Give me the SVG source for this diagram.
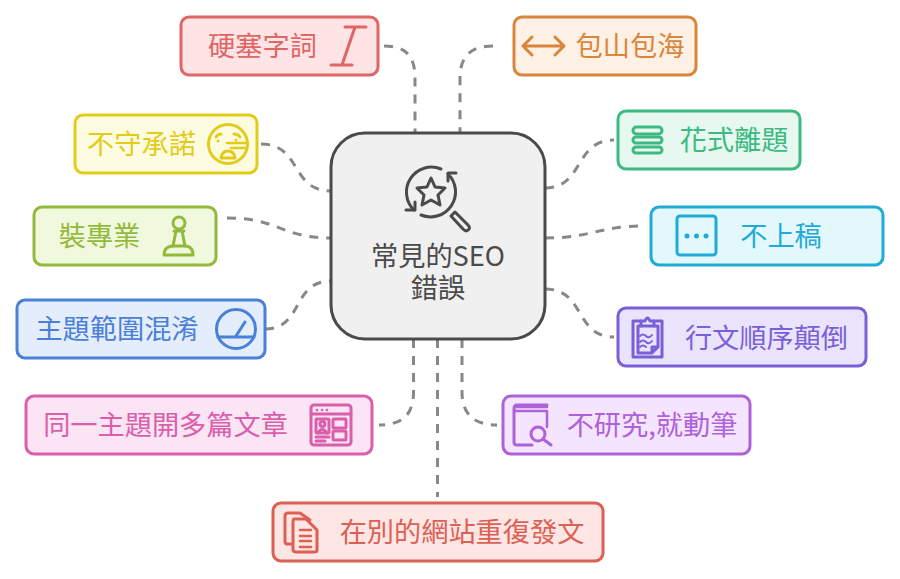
<svg xmlns="http://www.w3.org/2000/svg" width="900" height="579" viewBox="0 0 900 579">
<style>
text{font-family:"Noto Sans CJK TC","Noto Sans CJK SC",sans-serif;font-size:27.2px;font-weight:400;text-anchor:middle}
.box{stroke-width:3}
.ic{fill:none;stroke-width:3;stroke-linecap:round;stroke-linejoin:round}
.dot{stroke:none}
#connectors path{fill:none;stroke:#888;stroke-width:3;stroke-dasharray:9 8}
</style>
<rect width="900" height="579" fill="#fff"/>
<g id="connectors">
<path d="M384 46C405 46 415 55 415 78L415 133"/>
<path d="M493 46C472 46 460 55 460 78L460 133"/>
<path d="M545 188C584 188 574 140 614 140"/>
<path d="M545 238C592 238 598 226 645 226"/>
<path d="M545 289C586 289 574 337 614 337"/>
<path d="M462 339L462 392C462 415 475 425 497 425"/>
<path d="M437.500 339L437.500 497"/>
<path d="M413.500 339L413.500 392C413.500 415 402 425 379 425"/>
<path d="M265 329C304 329 291 281 331 281"/>
<path d="M227 218C280 218 280 238 331 238"/>
<path d="M261 144C302 144 290 191 331 191"/>
</g>
<g id="center">
<rect x="331" y="133" width="214" height="206" rx="34" fill="#f0f0f0" stroke="#4a4a4a" stroke-width="3"/>
<g class="ic" stroke="#4a4a4a">
<path d="M414 210A25 25 0 0 1 441 169"/>
<path d="M448 174A25 25 0 0 1 421 215"/>
<path d="M456 173L448 173L448 181"/>
<path d="M406 210L415 210L415 202"/>
<path d="M431 178L435 187L445 188L438 195L440 205L431 200L422 205L424 195L417 188L427 187Z"/>
<path d="M451 216L455 212L468 225Q471 228 468 230Q466 232 463 229Z"/>
</g>
<text fill="#4a4a4a"><tspan x="438" y="266">常見的SEO</tspan><tspan x="438" y="298">錯誤</tspan></text>
</g>
<g id="n-keyword-stuffing">
<rect class="box" x="181" y="17" width="197" height="58" rx="8" fill="#fee4e4" stroke="#e06666"/>
<text x="262.500" y="55.500" fill="#e06666">硬塞字詞</text>
<path class="ic" stroke="#e06666" d="M345 27L366 27M331 65L352 65M355 27L342 65"/>
</g>
<g id="n-everything">
<rect class="box" x="514" y="17" width="182" height="58" rx="8" fill="#fdf0e4" stroke="#d9853b"/>
<text x="630" y="55.500" fill="#d9853b">包山包海</text>
<path class="ic" stroke="#d9853b" d="M524 46L563 46M532 37L523 46L532 55M555 37L564 46L555 55"/>
</g>
<g id="n-off-topic">
<rect class="box" x="618" y="111" width="182" height="58" rx="8" fill="#e6f8ef" stroke="#3dba82"/>
<text x="734" y="149.500" fill="#3dba82">花式離題</text>
<g class="ic" stroke="#3dba82">
<rect x="633" y="127" width="29" height="7" rx="3.500"/>
<rect x="633" y="137" width="29" height="6" rx="3"/>
<rect x="633" y="147" width="29" height="6" rx="3"/>
</g>
</g>
<g id="n-promises">
<rect class="box" x="75" y="115" width="182" height="58" rx="8" fill="#fdfce0" stroke="#e3cc19"/>
<text x="141.500" y="153.500" fill="#e3cc19">不守承諾</text>
<g class="ic" stroke="#e3cc19">
<circle cx="228" cy="144" r="19.500"/>
<path d="M216 137Q218 134 221 134M234 134Q238 134 240 137"/>
<path d="M227 143L247 143M231 148L247 148" stroke-width="2.500"/>
<path d="M221 158Q222 151 228 151Q234 151 235 158Z"/>
</g>
<circle class="dot" cx="218" cy="141" r="1.500" fill="#e3cc19"/>
<circle class="dot" cx="236" cy="140" r="1.500" fill="#e3cc19"/>
</g>
<g id="n-expert">
<rect class="box" x="34" y="207" width="182" height="58" rx="8" fill="#f0f9de" stroke="#93b93a"/>
<text x="99.500" y="245.500" fill="#93b93a">裝專業</text>
<g class="ic" stroke="#93b93a">
<circle cx="179" cy="223" r="6"/>
<path d="M174 231L184 231M176 231L173 246M182 231L185 246"/>
<path d="M164 255Q164 247 172 246L186 246Q193 247 193 255Z"/>
</g>
</g>
<g id="n-no-publish">
<rect class="box" x="651" y="207" width="232" height="58" rx="8" fill="#e2f8fd" stroke="#1fabd6"/>
<text x="781" y="245.500" fill="#1fabd6">不上稿</text>
<rect class="ic" x="677" y="216" width="39" height="39" rx="3" stroke="#1fabd6"/>
<circle class="dot" cx="687" cy="236" r="2.500" fill="#1fabd6"/>
<circle class="dot" cx="696.500" cy="236" r="2.500" fill="#1fabd6"/>
<circle class="dot" cx="706" cy="236" r="2.500" fill="#1fabd6"/>
</g>
<g id="n-topic-confusion">
<rect class="box" x="17" y="300" width="248" height="58" rx="8" fill="#e4edfc" stroke="#4a80d8"/>
<text x="117" y="338.500" fill="#4a80d8">主題範圍混淆</text>
<g class="ic" stroke="#4a80d8">
<circle cx="236" cy="329" r="19.500"/>
<path d="M218 337L254 337M236 336L245 322"/>
</g>
</g>
<g id="n-order">
<rect class="box" x="618" y="308" width="248" height="58" rx="8" fill="#e9e4fc" stroke="#7a5fd6"/>
<text x="766.500" y="347.500" fill="#7a5fd6">行文順序顛倒</text>
<g class="ic" stroke="#7a5fd6">
<path d="M641 321L633 321L633 357L662 357L662 321L654 321"/>
<path d="M641 326L641 321L645 321Q647.500 315 650 321L654 321L654 326Z"/>
<path d="M638 326L638 353L652 353L658 347L658 326L654 326M641 326L638 326M652 353L652 347L658 347"/>
<path d="M640 336Q643 333 646 336T652 335M640 342Q643 339 646 342T652 341M640 347Q643 344 646 347" stroke-width="2"/>
</g>
</g>
<g id="n-duplicate-topic">
<rect class="box" x="26" y="396" width="346" height="58" rx="8" fill="#fbe4f3" stroke="#d95fab"/>
<text x="165.500" y="435" fill="#d95fab">同一主題開多篇文章</text>
<g class="ic" stroke="#d95fab" stroke-width="2.500">
<rect x="311" y="405" width="40" height="40" rx="3"/>
<path d="M311 414L351 414"/>
<rect x="316" y="419" width="13" height="14" rx="1"/>
<circle cx="322.500" cy="424" r="2.500"/>
<path d="M318 433Q322 426 327 433M316 437L329 437M316 441L325 441"/>
<rect x="333" y="419" width="13" height="9" rx="1"/>
<rect x="333" y="431" width="13" height="9" rx="1"/>
</g>
<circle class="dot" cx="317" cy="410" r="1.300" fill="#d95fab"/>
<circle class="dot" cx="322" cy="410" r="1.300" fill="#d95fab"/>
<circle class="dot" cx="327" cy="410" r="1.300" fill="#d95fab"/>
</g>
<g id="n-no-research">
<rect class="box" x="503" y="396" width="247" height="58" rx="8" fill="#f5e4fd" stroke="#ad62d9"/>
<text x="652" y="435" fill="#ad62d9">不研究,就動筆</text>
<g class="ic" stroke="#ad62d9">
<path d="M547 405L517 405Q514 405 514 409L514 442Q514 445 517 445L532 445"/>
<path d="M515 411L547 411L547 427M515 407L547 407" stroke-width="2.500"/>
<circle cx="538" cy="434" r="7"/>
<path d="M543 439L551 445"/>
</g>
</g>
<g id="n-repost">
<rect class="box" x="273" y="503" width="330" height="58" rx="8" fill="#fde6e3" stroke="#dd6055"/>
<text x="462" y="541.500" fill="#dd6055">在別的網站重復發文</text>
<g class="ic" stroke="#dd6055">
<path d="M291 544L287 544Q285 544 285 541L285 516Q285 513 288 513L300 513L310 520"/>
<path d="M294 519L306 519L317 530L317 550Q317 552 314 552L296 552Q293 552 293 549L293 522Q293 519 294 519Z"/>
<path d="M300 530L311 530M300 536L311 536M300 541L311 541M300 547L311 547" stroke-width="2.500"/>
</g>
</g>
</svg>
